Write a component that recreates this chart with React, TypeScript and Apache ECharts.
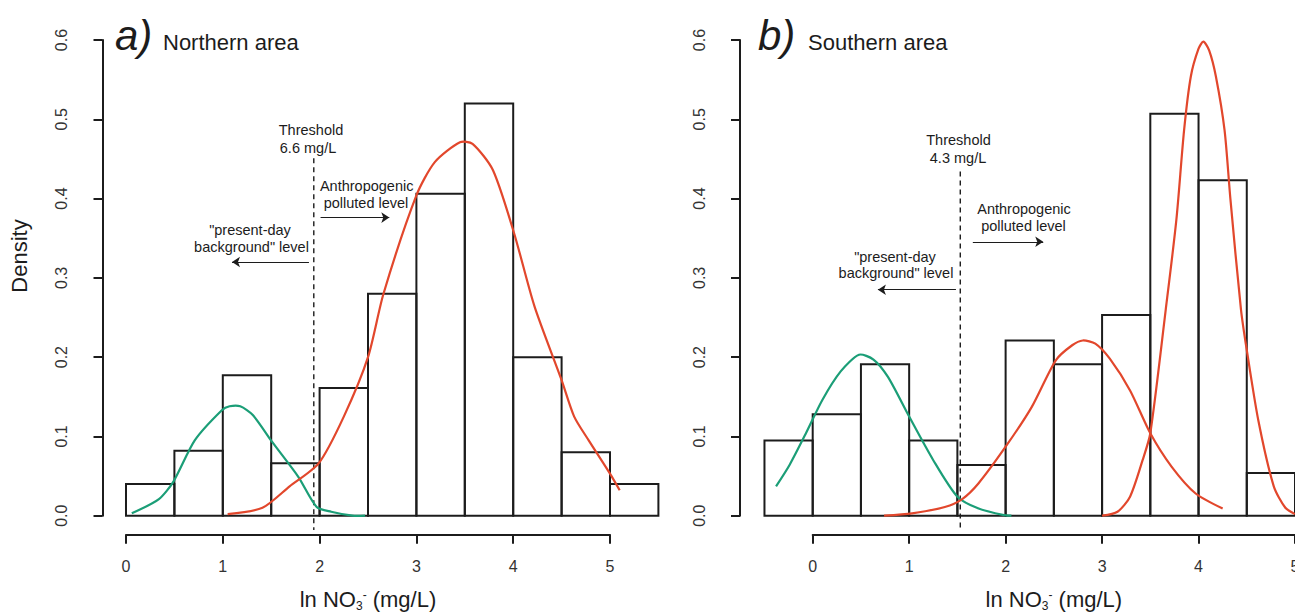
import React, { useEffect, useRef } from "react";
import * as echarts from "echarts";

// ---------- data ----------
const X_MIN = 0;
const X_MAX = 5;
const Y_MAX = 0.6;

const NORTH_EDGES = [0, 0.5, 1, 1.5, 2, 2.5, 3, 3.5, 4, 4.5, 5, 5.5];
const NORTH_DENSITY = [0.04, 0.082, 0.177, 0.066, 0.161, 0.28, 0.406, 0.52, 0.2, 0.08, 0.04];

const SOUTH_EDGES = [-0.5, 0, 0.5, 1, 1.5, 2, 2.5, 3, 3.5, 4, 4.5, 5];
const SOUTH_DENSITY = [0.095, 0.128, 0.191, 0.095, 0.064, 0.221, 0.191, 0.253, 0.507, 0.423, 0.054];

const NORTH_GREEN = [
  [0.06, 0.003], [0.34, 0.021], [0.49, 0.043], [0.71, 0.095], [0.99, 0.133], [1.07, 0.138],
  [1.18, 0.138], [1.31, 0.127], [1.51, 0.093], [1.78, 0.049], [1.97, 0.011], [2.12, 0.005],
  [2.34, 0.0], [2.47, 0.0],
];
const NORTH_RED = [
  [1.05, 0.002], [1.41, 0.01], [1.69, 0.037], [1.99, 0.066], [2.25, 0.125], [2.5, 0.2],
  [2.66, 0.28], [3.0, 0.404], [3.19, 0.446], [3.45, 0.471], [3.58, 0.469], [3.79, 0.436],
  [4.01, 0.356], [4.22, 0.264], [4.5, 0.171], [4.63, 0.125], [4.78, 0.095], [5.0, 0.053],
  [5.1, 0.032],
];
const SOUTH_GREEN = [
  [-0.38, 0.037], [-0.24, 0.064], [-0.07, 0.104], [0.1, 0.146], [0.29, 0.182], [0.48, 0.203],
  [0.63, 0.197], [0.78, 0.175], [1.0, 0.125], [1.25, 0.07], [1.5, 0.024], [1.72, 0.009],
  [1.97, 0.001], [2.06, 0.0],
];
const SOUTH_RED_1 = [
  [0.74, 0.0], [1.03, 0.003], [1.37, 0.011], [1.55, 0.021], [1.72, 0.041], [2.0, 0.087],
  [2.27, 0.137], [2.52, 0.196], [2.69, 0.215], [2.8, 0.221], [2.93, 0.217], [3.08, 0.198],
  [3.29, 0.158], [3.5, 0.104], [3.72, 0.062], [3.97, 0.028], [4.25, 0.009],
];
const SOUTH_RED_2 = [
  [3.0, 0.0], [3.16, 0.005], [3.29, 0.024], [3.42, 0.07], [3.5, 0.104], [3.66, 0.26],
  [3.77, 0.373], [3.85, 0.486], [3.92, 0.554], [4.0, 0.589], [4.05, 0.598], [4.11, 0.587],
  [4.18, 0.554], [4.27, 0.486], [4.33, 0.4], [4.44, 0.26], [4.5, 0.209], [4.62, 0.12],
  [4.78, 0.037], [4.9, 0.01], [5.0, 0.002],
];

// threshold (ln NO3-) positions as drawn; dashed line extents in density units
const NORTH_THRESHOLD = [[1.94, 0.451], [1.94, -0.018]];
const SOUTH_THRESHOLD = [[1.53, 0.434], [1.53, -0.018]];

// arrows: [x start, x end, y]
const NORTH_ARROWS = [[2.01, 2.72, 0.376], [1.89, 1.095, 0.32]];
const SOUTH_ARROWS = [[1.66, 2.39, 0.3455], [1.485, 0.676, 0.285]];

// ---------- styles ----------
const FONT = "'Liberation Sans', Arial, Helvetica, sans-serif";
const GREEN = "#1b9e77";
const RED = "#e2472c";
const INK = "#1c1c1c";

function bars(edges: number[], dens: number[]) {
  return dens.map((d, i) => [edges[i], edges[i + 1], d]);
}

function barSeries(data: number[][], idx: number) {
  return {
    type: "custom",
    xAxisIndex: idx,
    yAxisIndex: idx,
    clip: false,
    z: 2,
    encode: { x: [0, 1], y: 2 },
    data,
    renderItem: (_p: any, api: any) => {
      const a = api.coord([api.value(0), api.value(2)]);
      const b = api.coord([api.value(1), 0]);
      return {
        type: "rect",
        shape: { x: a[0], y: a[1], width: b[0] - a[0], height: b[1] - a[1] },
        style: { fill: "none", stroke: INK, lineWidth: 2 },
      };
    },
  };
}

// polyline drawn through the axes' scales (api.coord), unclipped
function pathSeries(data: number[][], idx: number, style: any, smooth: number, z: number) {
  return {
    type: "custom",
    xAxisIndex: idx,
    yAxisIndex: idx,
    clip: false,
    z,
    encode: { x: 0, y: 1 },
    data,
    renderItem: (params: any, api: any) => {
      if (params.dataIndex !== 0) return null;
      return {
        type: "polyline",
        shape: { points: data.map((p) => api.coord(p)), smooth },
        style: { fill: "none", ...style },
      };
    },
  };
}

function curve(data: number[][], color: string, idx: number) {
  return pathSeries(data, idx, { stroke: color, lineWidth: 2.2 }, 0.25, 4);
}

function threshold(data: number[][], idx: number) {
  return pathSeries(data, idx, { stroke: INK, lineWidth: 1.4, lineDash: [5, 4] }, 0, 3);
}

function arrowSeries(arrows: number[][], idx: number) {
  return {
    type: "line",
    xAxisIndex: idx,
    yAxisIndex: idx,
    data: [],
    symbol: "none",
    markLine: {
      silent: true,
      symbol: ["none", "arrow"],
      symbolSize: 8,
      label: { show: false },
      lineStyle: { color: INK, width: 1.2, type: "solid" },
      data: arrows.map((a) => [{ coord: [a[0], a[2]] }, { coord: [a[1], a[2]] }]),
    },
  };
}

function xAxis(idx: number) {
  return {
    type: "value",
    gridIndex: idx,
    min: X_MIN,
    max: X_MAX,
    interval: 1,
    offset: 19,
    name: "ln NO{sub|3}{sup|-} (mg/L)",
    nameLocation: "middle",
    nameGap: 53,
    nameTextStyle: {
      fontFamily: FONT,
      fontSize: 22,
      color: INK,
      rich: {
        sub: { fontFamily: FONT, fontSize: 12, color: INK, padding: [12, 0, 0, 0] },
        sup: { fontFamily: FONT, fontSize: 12, color: INK, padding: [0, 0, 10, 0] },
      },
    },
    axisLine: { show: true, onZero: false, lineStyle: { color: INK, width: 2 } },
    axisTick: { show: true, length: 9, lineStyle: { color: INK, width: 2 } },
    axisLabel: { fontFamily: FONT, fontSize: 16, color: "#333", margin: 24 },
    splitLine: { show: false },
  };
}

function yAxis(idx: number, offset: number) {
  return {
    type: "value",
    gridIndex: idx,
    min: 0,
    max: Y_MAX,
    interval: 0.1,
    offset,
    axisLine: { show: true, onZero: false, lineStyle: { color: INK, width: 2 } },
    axisTick: { show: true, length: 9, lineStyle: { color: INK, width: 2 } },
    axisLabel: {
      fontFamily: FONT,
      fontSize: 16,
      color: "#333",
      rotate: 90,
      margin: 33,
      formatter: (v: number) => v.toFixed(1),
    },
    splitLine: { show: false },
  };
}

function txt(text: string, x: number, y: number, size: number, extra: any = {}) {
  return {
    type: "text",
    x,
    y,
    silent: true,
    style: {
      text,
      fontFamily: FONT,
      fontSize: size,
      fill: INK,
      align: "center",
      verticalAlign: "middle",
      ...extra,
    },
  };
}

export default function App() {
  const ref = useRef<HTMLDivElement>(null);

  useEffect(() => {
    if (!ref.current) return;
    const chart = echarts.init(ref.current, null, { renderer: "svg" });

    const option: any = {
      animation: false,
      backgroundColor: "#ffffff",
      grid: [
        { left: 126, width: 484, top: 40, bottom: 97.3, outerBoundsMode: "none", containLabel: false },
        { left: 812.7, right: 0, top: 40, bottom: 97.3, outerBoundsMode: "none", containLabel: false },
      ],
      xAxis: [xAxis(0), xAxis(1)],
      yAxis: [yAxis(0, 23.5), yAxis(1, 72.7)],
      series: [
        barSeries(bars(NORTH_EDGES, NORTH_DENSITY), 0),
        curve(NORTH_GREEN, GREEN, 0),
        curve(NORTH_RED, RED, 0),
        threshold(NORTH_THRESHOLD, 0),
        arrowSeries(NORTH_ARROWS, 0),
        barSeries(bars(SOUTH_EDGES, SOUTH_DENSITY), 1),
        curve(SOUTH_GREEN, GREEN, 1),
        curve(SOUTH_RED_1, RED, 1),
        curve(SOUTH_RED_2, RED, 1),
        threshold(SOUTH_THRESHOLD, 1),
        arrowSeries(SOUTH_ARROWS, 1),
      ],
      graphic: [
        {
          type: "text",
          x: 19,
          y: 256,
          rotation: Math.PI / 2,
          silent: true,
          style: {
            text: "Density",
            fontFamily: FONT,
            fontSize: 22,
            fill: INK,
            align: "center",
            verticalAlign: "middle",
          },
        },
        // panel a
        txt("a)", 115, 35, 42, { align: "left", fontStyle: "italic" }),
        txt("Northern area", 163, 42.3, 22, { align: "left" }),
        txt("Threshold", 311, 129.5, 14.5),
        txt("6.6 mg/L", 308, 147.5, 14.5),
        txt("Anthropogenic", 366.7, 186, 14.5),
        txt("polluted level", 366, 203, 14.5),
        txt("\"present-day", 250, 229.5, 14.5),
        txt("background\" level", 251.5, 246.5, 14.5),
        // panel b
        txt("b)", 758, 35, 42, { align: "left", fontStyle: "italic" }),
        txt("Southern area", 808, 42.3, 22, { align: "left" }),
        txt("Threshold", 958.5, 140, 14.5),
        txt("4.3 mg/L", 958, 157.5, 14.5),
        txt("Anthropogenic", 1024, 209, 14.5),
        txt("polluted level", 1023.5, 226, 14.5),
        txt("\"present-day", 895, 257, 14.5),
        txt("background\" level", 896, 272.5, 14.5),
      ],
    };

    chart.setOption(option);
    return () => chart.dispose();
  }, []);

  return (
    <div
      ref={ref}
      style={{ position: "absolute", left: 0, top: 0, width: 1295, height: 613, background: "#fff" }}
    />
  );
}
